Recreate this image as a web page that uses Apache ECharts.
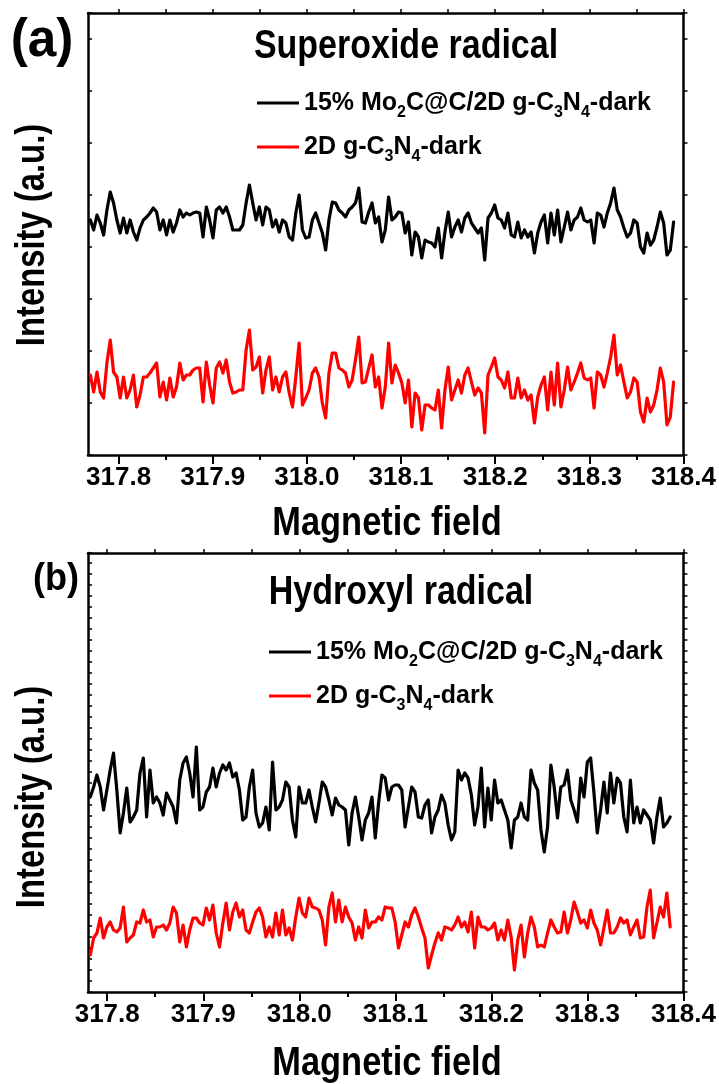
<!DOCTYPE html>
<html>
<head>
<meta charset="utf-8">
<script src="https://cdn.jsdelivr.net/npm/echarts@6/dist/echarts.min.js"></script>
<style>
  html, body { margin: 0; padding: 0; background: #fff; }
  #chart { width: 719px; height: 1084px; }
</style>
</head>
<body>
<div id="chart"></div>
<script>
// sweep of the magnetic field (mT), one reading per step
const fieldStartA = 317.770, fieldStepA = 0.00352;
const fieldStartB = 317.7824, fieldStepB = 0.00345;

const majorTicks = [317.8, 317.9, 318.0, 318.1, 318.2, 318.3, 318.4];
const minorTicks = [317.85, 317.95, 318.05, 318.15, 318.25, 318.35];
const allTicks = [317.8, 317.85, 317.9, 317.95, 318.0, 318.05, 318.1, 318.15, 318.2, 318.25, 318.3, 318.35, 318.4];

const nameBlack = "15% Mo2C@C/2D g-C3N4-dark";
const nameRed = "2D g-C3N4-dark";

// (a) superoxide radical, intensity in a.u.
const blackA = [
  235,225,240,232,220,245,263,252,235,222, 237,222,235,223,215,227,235,238,242,247,
  243,225,235,220,235,223,232,245,238,242, 240,242,243,242,218,248,235,217,245,248,
  242,248,238,225,225,225,230,252,270,252, 235,248,230,248,245,228,235,223,235,232,
  218,215,242,260,225,217,218,235,242,232, 222,205,235,253,252,245,242,238,245,248,
  252,267,233,232,243,252,232,238,213,225, 258,235,238,
  243,242,222,233,200,223,218,197,215,213, 212,208,227,197,223,243,218,228,235,223,
  237,242,232,227,222,227,195,237,242,250, 237,235,227,242,220,218,233,217,225,218,
  223,202,222,233,240,212,242,220,245,213, 228,243,225,235,238,247,235,233,235,212,
  242,240,228,242,252,267,245,238,227,218, 222,235,232,208,202,222,210,215,228,243,
  232,200,205,233
];
const redA = [
  80,63,83,63,57,92,115,83,78,57, 78,57,65,80,48,60,78,78,82,87,
  92,58,73,55,77,58,68,92,75,80, 80,85,87,87,53,93,70,52,87,93,
  82,95,73,62,63,65,65,105,125,85, 88,98,62,85,98,65,78,63,78,83,
  62,48,78,112,50,57,65,82,87,78, 52,37,82,102,102,87,85,82,68,75,
  95,118,72,73,87,100,68,78,47,68, 112,72,90,
  82,72,52,75,28,62,57,25,50,50, 47,45,65,27,65,88,55,65,75,62,
  80,87,73,60,67,62,22,80,88,97, 78,75,67,83,57,57,77,57,65,55,
  60,32,58,70,78,45,83,50,92,48, 65,88,65,73,82,92,77,75,77,47,
  83,80,68,82,98,120,80,90,73,57, 63,77,73,43,33,57,43,50,65,87,
  73,30,38,73
];

// (b) hydroxyl radical, intensity in a.u.
const blackB = [
  195,205,217,205,182,202,222,239,202,159, 179,204,170,175,182,219,234,175,222,189,
  195,189,177,199,192,185,169,212,229,235, 219,195,245,182,185,200,205,224,205,219,
  227,222,229,215,219,202,172,175,205,222, 179,165,169,185,162,230,182,185,192,210,
  205,172,155,205,189,189,202,185,170,189, 210,205,192,177,194,187,185,182,147,179,
  195,175,152,172,179,195,154,189,217,214, 192,205,207,
  207,202,165,185,205,200,175,174,187,192, 159,175,182,197,189,167,152,160,222,212,
  219,214,197,167,185,224,165,204,172,212, 189,192,182,172,144,172,175,189,175,172,
  222,209,202,162,140,165,227,205,174,205, 207,222,192,182,170,214,195,230,234,199,
  159,182,210,179,219,189,214,209,175,160, 212,169,185,169,182,177,172,149,175,194,
  165,169,175
];
const redB = [
  37,54,59,74,54,65,70,62,60,64, 85,50,54,57,70,69,82,70,72,55,
  65,65,67,62,69,85,79,50,67,45, 62,74,74,69,67,84,72,87,59,45,
  69,89,62,80,89,75,82,62,59,70, 80,84,75,55,65,55,79,57,82,57,
  64,52,75,94,79,75,94,85,84,82, 72,47,85,99,70,92,70,85,75,69,
  52,65,54,82,64,70,70,75,72,85, 84,84,70,
  44,57,70,65,77,84,75,64,54,24, 37,49,59,52,65,64,62,67,75,65,
  70,60,80,44,75,65,65,62,64,69, 52,62,52,72,55,22,52,67,35,59,
  75,65,45,47,45,59,72,65,59,60, 80,59,72,90,80,69,72,64,82,69,
  62,47,64,82,59,59,65,74,69,72, 57,65,72,54,55,85,102,54,69,85,
  75,99,65
];

const FONT = "'Liberation Sans', Arial, sans-serif";

function toPoints(start, step, values) {
  return values.map((v, i) => [+(start + step * i).toFixed(5), v]);
}

function subscript(name) {
  return name.replace("Mo2C", "Mo{sub|2}C").replace("C3N4", "C{sub|3}N{sub|4}");
}

const panels = [
  { top: 13, height: 442, xMin: 317.7675, yMax: 442, yInterval: 52 },
  { top: 553, height: 439, xMin: 317.78, yMax: 439, yInterval: 11 },
];

const xAxes = [];
const yAxes = [];
panels.forEach((p, gi) => {
  xAxes.push({
    type: "value", gridIndex: gi, position: "bottom", min: p.xMin, max: 318.4,
    axisLine: { show: true, onZero: false, lineStyle: { color: "#000", width: 2.5 } },
    axisTick: { show: true, customValues: majorTicks, length: 9, lineStyle: { color: "#000", width: 2 } },
    axisLabel: {
      customValues: majorTicks, margin: 10, formatter: (v) => v.toFixed(1),
      fontSize: 26, fontWeight: "bold", fontFamily: FONT, color: "#000",
    },
    splitLine: { show: false },
  });
  xAxes.push({
    type: "value", gridIndex: gi, position: "bottom", min: p.xMin, max: 318.4,
    axisLine: { show: false, onZero: false },
    axisTick: { show: true, customValues: minorTicks, length: 5, lineStyle: { color: "#000", width: 2 } },
    axisLabel: { show: false },
    splitLine: { show: false },
  });
  xAxes.push({
    type: "value", gridIndex: gi, position: "top", min: p.xMin, max: 318.4,
    axisLine: { show: true, onZero: false, lineStyle: { color: "#000", width: 2.5 } },
    axisTick: { show: true, customValues: allTicks, length: 4, lineStyle: { color: "#000", width: 1.5 } },
    axisLabel: { show: false },
    splitLine: { show: false },
  });
  yAxes.push({
    type: "value", gridIndex: gi, position: "left", min: 0, max: p.yMax, interval: p.yInterval,
    axisLine: { show: true, onZero: false, lineStyle: { color: "#000", width: 2.5 } },
    axisTick: { show: true, inside: true, length: 4, lineStyle: { color: "#000", width: 1.5 } },
    axisLabel: { show: false },
    splitLine: { show: false },
  });
  yAxes.push({
    type: "value", gridIndex: gi, position: "right", min: 0, max: p.yMax, interval: p.yInterval,
    axisLine: { show: true, onZero: false, lineStyle: { color: "#000", width: 2.5 } },
    axisTick: { show: true, inside: false, length: 4, lineStyle: { color: "#000", width: 1.5 } },
    axisLabel: { show: false },
    splitLine: { show: false },
  });
});

function lineSeries(name, color, xi, yi, data) {
  return {
    name: name, type: "line", xAxisIndex: xi, yAxisIndex: yi,
    showSymbol: false, symbol: "none", smooth: false,
    lineStyle: { color: color, width: 3.2, join: "round", cap: "round" },
    itemStyle: { color: color },
    data: data, animation: false,
  };
}

const legendText = {
  fontSize: 25, fontWeight: "bold", fontFamily: FONT, color: "#000", lineHeight: 36,
  rich: {
    sub: { fontSize: 16, fontWeight: "bold", fontFamily: FONT, color: "#000", verticalAlign: "bottom", lineHeight: 14 },
  },
};

function legendAt(left, top) {
  return {
    data: [nameBlack, nameRed], orient: "vertical", left: left, top: top,
    icon: "rect", itemWidth: 42, itemHeight: 3, itemGap: 8,
    selectedMode: false, formatter: subscript, textStyle: legendText,
  };
}

// bold text squeezed sideways, like the condensed face of the original figure
function label(text, x, y, size, squeeze, rotate) {
  return {
    type: "text", x: x, y: y, rotation: rotate ? Math.PI / 2 : 0, scaleX: squeeze,
    style: {
      text: text, fontSize: size, fontWeight: "bold", fontFamily: FONT, fill: "#000",
      align: "center", verticalAlign: "middle", textAlign: "center", textVerticalAlign: "middle",
    },
  };
}

const chart = echarts.init(document.getElementById("chart"));
chart.setOption({
  animation: false,
  backgroundColor: "#fff",
  grid: panels.map((p) => ({ left: 88, width: 597, top: p.top, height: p.height })),
  xAxis: xAxes,
  yAxis: yAxes,
  legend: [legendAt(252, 80), legendAt(264, 629)],
  graphic: [
    label("(a)", 42, 41, 54, 0.95),
    label("Superoxide radical", 406, 47, 40, 0.85),
    label("Intensity (a.u.)", 33, 235, 40, 0.82, true),
    label("Magnetic field", 387, 524, 40, 0.86),
    label("(b)", 56, 580, 38, 0.95),
    label("Hydroxyl radical", 401, 593, 40, 0.85),
    label("Intensity (a.u.)", 33, 797, 40, 0.82, true),
    label("Magnetic field", 387, 1064, 40, 0.86),
  ],
  series: [
    lineSeries(nameBlack, "#000000", 0, 0, toPoints(fieldStartA, fieldStepA, blackA)),
    lineSeries(nameRed, "#ff0000", 0, 0, toPoints(fieldStartA, fieldStepA, redA)),
    lineSeries(nameBlack, "#000000", 3, 2, toPoints(fieldStartB, fieldStepB, blackB)),
    lineSeries(nameRed, "#ff0000", 3, 2, toPoints(fieldStartB, fieldStepB, redB)),
  ],
});
</script>
</body>
</html>
